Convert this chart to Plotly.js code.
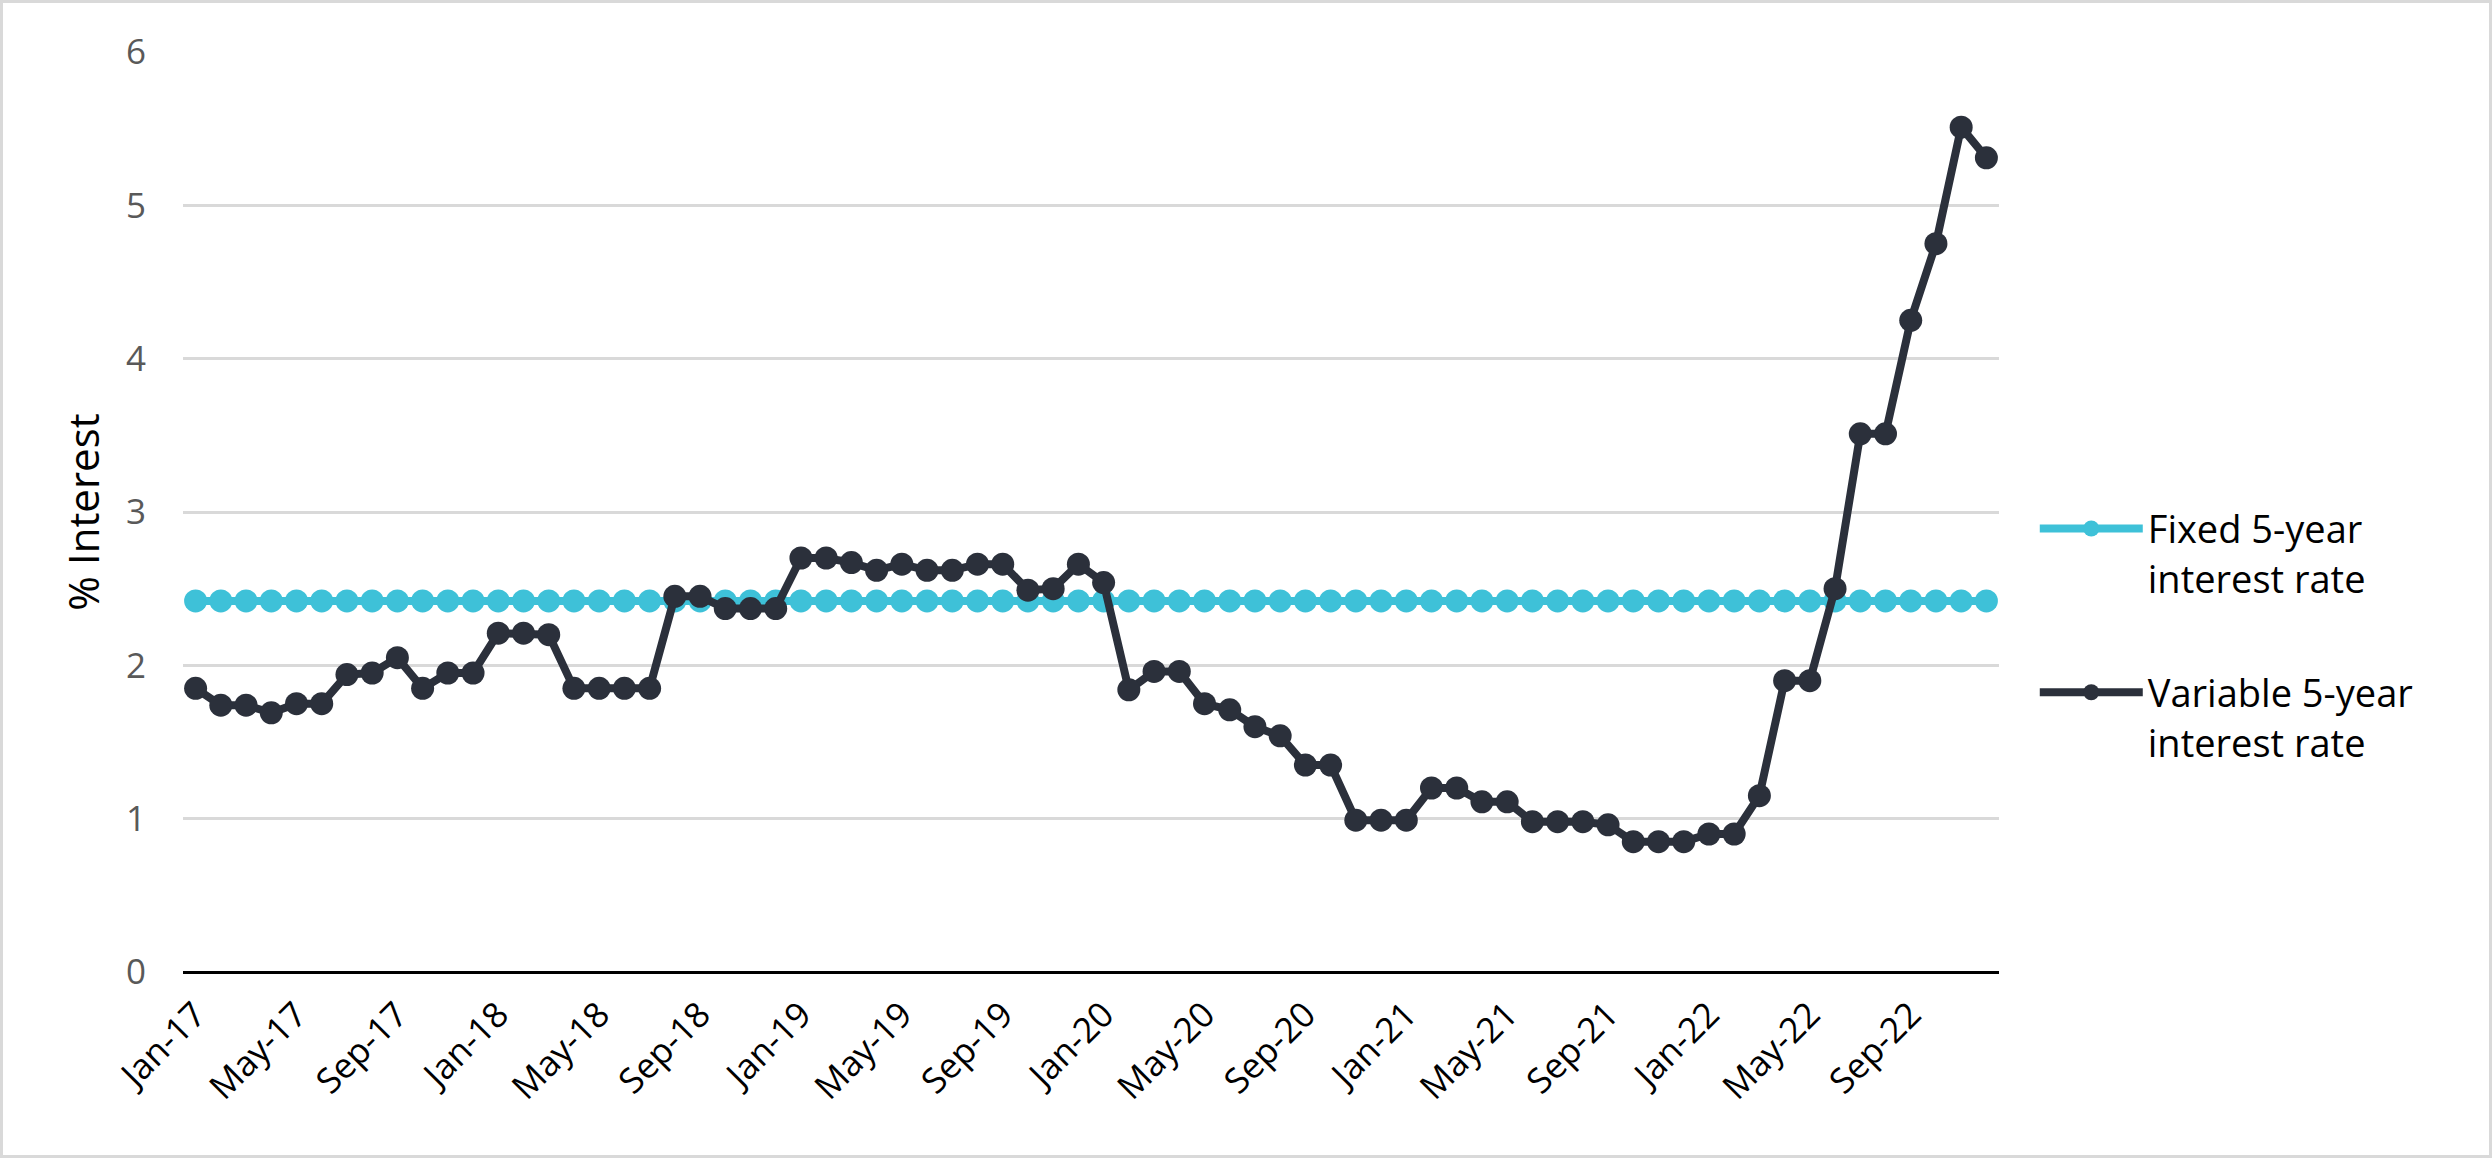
<!DOCTYPE html>
<html>
<head>
<meta charset="utf-8">
<script src="https://cdn.plot.ly/plotly-3.0.1.min.js"></script>
<style>
  html, body { margin: 0; padding: 0; background: #ffffff; }
  #wrap { position: relative; width: 2492px; height: 1158px; }
  #chart { width: 2492px; height: 1158px; }
  #frame { position: absolute; left: 0; top: 0; width: 2492px; height: 1158px; box-sizing: border-box; border: 3px solid #d9d9d9; pointer-events: none; }
</style>
</head>
<body>
<div id="wrap"><div id="chart"></div><div id="frame"></div></div>
<script>
const months = [
  'Jan-17','Feb-17','Mar-17','Apr-17','May-17','Jun-17','Jul-17','Aug-17','Sep-17','Oct-17','Nov-17','Dec-17',
  'Jan-18','Feb-18','Mar-18','Apr-18','May-18','Jun-18','Jul-18','Aug-18','Sep-18','Oct-18','Nov-18','Dec-18',
  'Jan-19','Feb-19','Mar-19','Apr-19','May-19','Jun-19','Jul-19','Aug-19','Sep-19','Oct-19','Nov-19','Dec-19',
  'Jan-20','Feb-20','Mar-20','Apr-20','May-20','Jun-20','Jul-20','Aug-20','Sep-20','Oct-20','Nov-20','Dec-20',
  'Jan-21','Feb-21','Mar-21','Apr-21','May-21','Jun-21','Jul-21','Aug-21','Sep-21','Oct-21','Nov-21','Dec-21',
  'Jan-22','Feb-22','Mar-22','Apr-22','May-22','Jun-22','Jul-22','Aug-22','Sep-22','Oct-22','Nov-22','Dec-22'
];

const fixedRate = [
  2.42,2.42,2.42,2.42,2.42,2.42,2.42,2.42,2.42,2.42,2.42,2.42,
  2.42,2.42,2.42,2.42,2.42,2.42,2.42,2.42,2.42,2.42,2.42,2.42,
  2.42,2.42,2.42,2.42,2.42,2.42,2.42,2.42,2.42,2.42,2.42,2.42,
  2.42,2.42,2.42,2.42,2.42,2.42,2.42,2.42,2.42,2.42,2.42,2.42,
  2.42,2.42,2.42,2.42,2.42,2.42,2.42,2.42,2.42,2.42,2.42,2.42,
  2.42,2.42,2.42,2.42,2.42,2.42,2.42,2.42,2.42,2.42,2.42,2.42
];

const variableRate = [
  1.85,1.74,1.74,1.69,1.75,1.75,1.94,1.95,2.05,1.85,1.95,1.95,
  2.21,2.21,2.20,1.85,1.85,1.85,1.85,2.45,2.45,2.37,2.37,2.37,
  2.70,2.70,2.67,2.62,2.66,2.62,2.62,2.66,2.66,2.49,2.50,2.66,
  2.54,1.84,1.96,1.96,1.75,1.71,1.60,1.54,1.35,1.35,0.99,0.99,
  0.99,1.20,1.20,1.11,1.11,0.98,0.98,0.98,0.96,0.85,0.85,0.85,
  0.90,0.90,1.15,1.90,1.90,2.50,3.51,3.51,4.25,4.75,5.51,5.31
];

const seriesNames = ['Fixed 5-year<br>interest rate', 'Variable 5-year<br>interest rate'];
const yTickVals = [0, 1, 2, 3, 4, 5, 6];
const xTickLabels = months.filter((m, i) => i % 4 === 0);

const cyan = '#3ec1d8';
const dark = '#2b303b';
const sans = '"Open Sans", Lato, sans-serif';

const traces = [
  {
    x: months, y: fixedRate, name: seriesNames[0], type: 'scatter', mode: 'lines+markers',
    line: { color: cyan, width: 8 }, marker: { color: cyan, size: 23 },
    legendgroup: 'a'
  },
  {
    x: months, y: variableRate, name: seriesNames[1], type: 'scatter', mode: 'lines+markers',
    line: { color: dark, width: 8 }, marker: { color: dark, size: 23 },
    legendgroup: 'b'
  }
];

const layout = {
  width: 2492, height: 1158,
  margin: { l: 183, r: 493, t: 52, b: 186 },
  paper_bgcolor: '#ffffff', plot_bgcolor: '#ffffff',
  showlegend: true,
  legend: {
    x: 1.0197, xanchor: 'left', y: 0.366, yanchor: 'middle',
    font: { family: sans, size: 38, color: '#000000' },
    itemwidth: 103, traceorder: 'grouped', tracegroupgap: 62, valign: 'top',
    bgcolor: 'rgba(0,0,0,0)'
  },
  xaxis: {
    type: 'category', range: [-0.5, 71.5],
    tickmode: 'array', tickvals: xTickLabels, ticktext: xTickLabels,
    tickangle: -45, showgrid: false, ticks: '', ticklabelstandoff: 14,
    tickfont: { family: sans, size: 35, color: '#000000' },
    showline: false, zeroline: false
  },
  yaxis: {
    range: [0, 6], tickmode: 'array', tickvals: yTickVals,
    showgrid: true, gridcolor: '#d9d9d9', gridwidth: 3,
    zeroline: true, zerolinecolor: '#000000', zerolinewidth: 3,
    ticks: '', ticklabelstandoff: 36,
    tickfont: { family: sans, size: 35, color: '#595959' },
    title: { text: '% Interest', standoff: 13,
      font: { family: sans, size: 42, color: '#000000' } }
  }
};

Plotly.newPlot('chart', traces, layout, { displayModeBar: false, staticPlot: true });
</script>
</body>
</html>
